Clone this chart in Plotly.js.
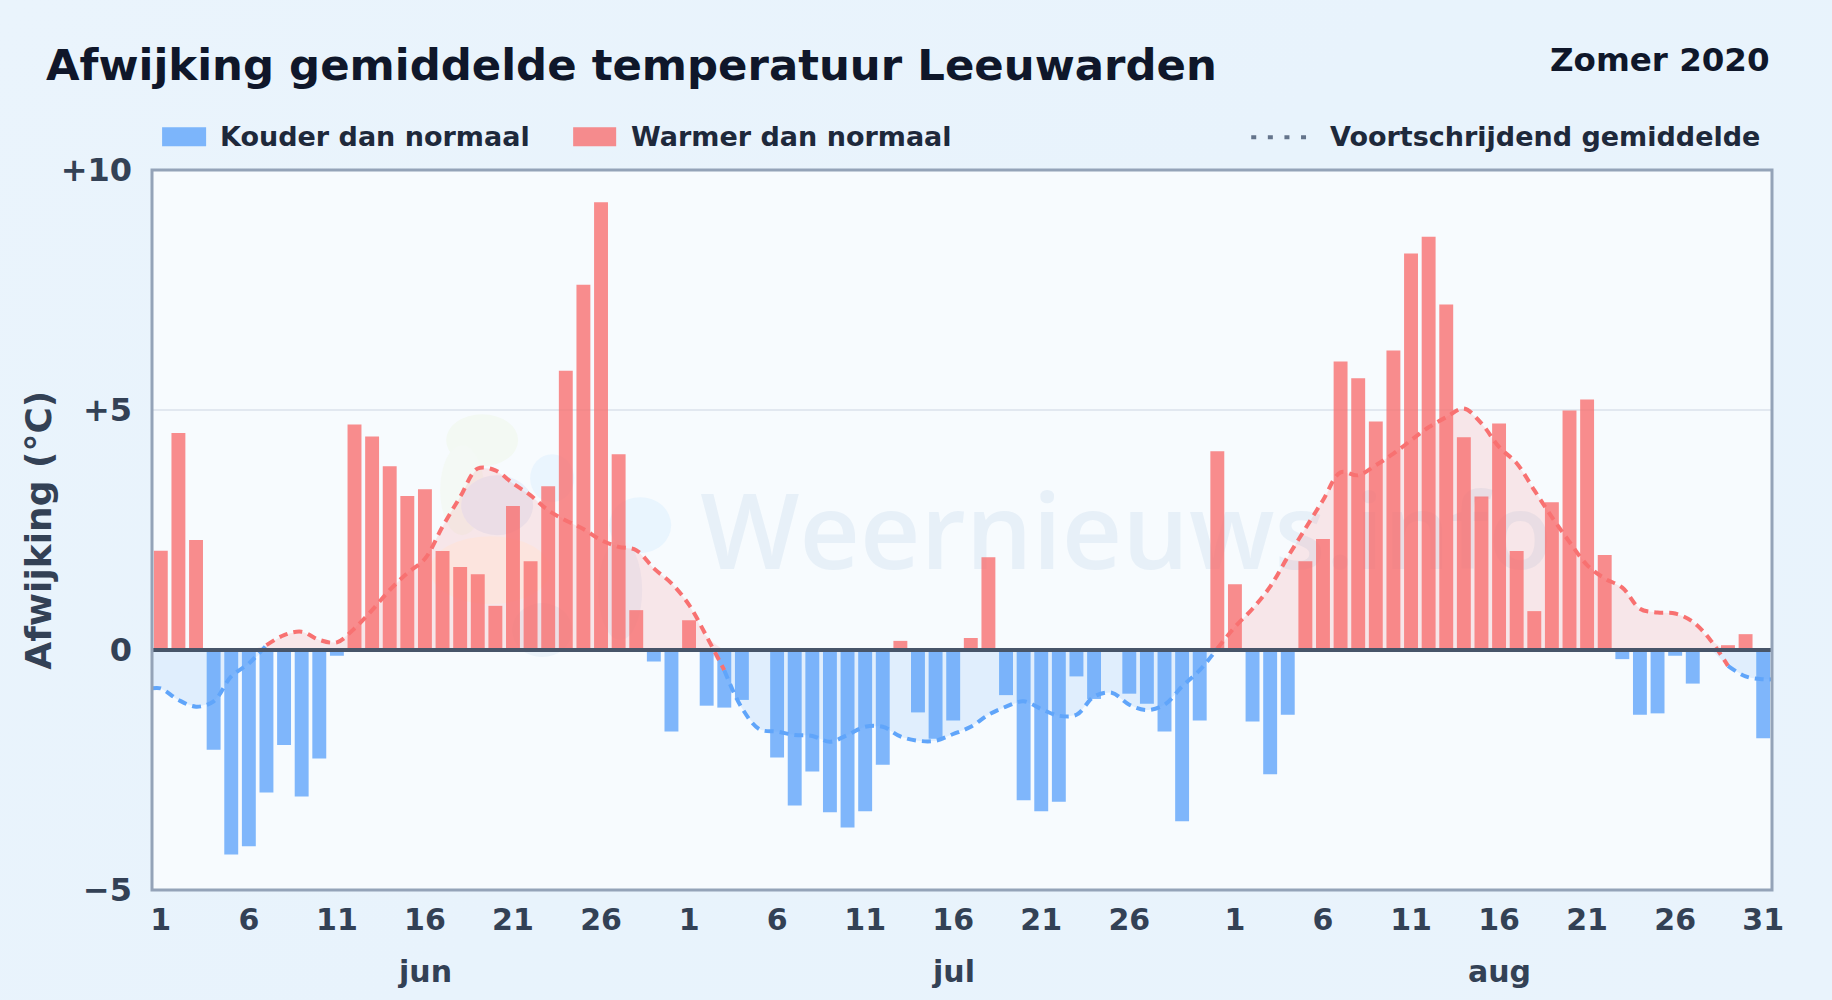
<!DOCTYPE html>
<html>
<head>
<meta charset="utf-8">
<script src="https://cdn.plot.ly/plotly-3.0.1.min.js"></script>
<style>
html,body{margin:0;padding:0;width:1832px;height:1000px;overflow:hidden;background:linear-gradient(135deg,#eaf4fc 0%,#e8f3fc 50%,#e9f3fc 100%);}
#chart{width:1832px;height:1000px;}
</style>
</head>
<body>
<div id="chart"></div>
<script>
const chartTitle = "Afwijking gemiddelde temperatuur Leeuwarden";
const subTitle = "Zomer 2020";
const yAxisTitle = "Afwijking (°C)";
const coldName = "Kouder dan normaal";
const warmName = "Warmer dan normaal";
const avgName = "Voortschrijdend gemiddelde";
const watermarkText = "Weernieuws.info";

// Daily deviation, 1 June to 31 August 2020
const juneDeviation = [2.07,4.52,2.29,-2.08,-4.26,-4.09,-2.97,-1.98,-3.05,-2.26,-0.12,4.70,4.45,3.83,3.21,3.35,2.06,1.73,1.58,0.92,3.00,1.85,3.41,5.82,7.61,9.33,4.08,0.83,-0.24,-1.70];
const julyDeviation = [0.62,-1.16,-1.20,-1.04,0,-2.24,-3.24,-2.53,-3.38,-3.70,-3.36,-2.39,0.19,-1.30,-1.85,-1.47,0.25,1.93,-0.94,-3.13,-3.36,-3.16,-0.55,-1.02,0,-0.91,-1.12,-1.70,-3.57,-1.47,4.14];
const augustDeviation = [1.37,-1.49,-2.59,-1.35,1.85,2.31,6.01,5.66,4.76,6.24,8.26,8.61,7.20,4.43,3.20,4.72,2.06,0.81,3.08,4.99,5.22,1.98,-0.19,-1.35,-1.32,-0.12,-0.70,0,0.10,0.33,-1.84];

// Moving average, day by day
const juneAverage = [-0.80,-1.04,-1.18,-1.07,-0.55,-0.28,0.10,0.31,0.38,0.21,0.16,0.45,0.83,1.25,1.60,1.90,2.57,3.19,3.78,3.74,3.47,3.22,2.91,2.70,2.52,2.29,2.15,2.08,1.70,1.39];
const julyAverage = [0.94,0.28,-0.42,-1.21,-1.65,-1.70,-1.77,-1.79,-1.91,-1.77,-1.60,-1.60,-1.80,-1.89,-1.89,-1.75,-1.60,-1.35,-1.18,-1.07,-1.23,-1.37,-1.35,-0.97,-0.89,-1.14,-1.25,-1.14,-0.76,-0.42,0.03];
const augustAverage = [0.48,0.86,1.32,1.94,2.53,3.12,3.70,3.64,3.85,4.09,4.37,4.64,4.85,5.03,4.72,4.23,3.89,3.33,2.77,2.25,1.77,1.49,1.30,0.86,0.78,0.76,0.59,0.21,-0.33,-0.55,-0.61];

const tickValues = [1,6,11,16,21,26,31,36,41,46,51,56,62,67,72,77,82,87,92];
const tickLabels = ["1","6","11","16","21","26","1","6","11","16","21","26","1","6","11","16","21","26","31"];
const yTickValues = [-5,0,5,10];
const yTickLabels = ["−5","0","+5","+10"];
const monthNames = ["jun","jul","aug"];
const monthLabelDays = [16,46,77];

const deviation = juneDeviation.concat(julyDeviation, augustDeviation);
const average = juneAverage.concat(julyAverage, augustAverage);
const days = deviation.map((_, i) => i + 1);

const COLD_BAR = "rgba(96,165,250,0.8)", WARM_BAR = "rgba(248,113,113,0.8)";
const COLD_LINE = "#60a5fa", WARM_LINE = "#f87171";
const COLD_FILL = "rgba(96,165,250,0.15)", WARM_FILL = "rgba(248,113,113,0.15)";
const FONT = "DejaVu Sans";

const PL = 151.9, PR = 1771.7, PT = 169.7, PB = 890;
const px = v => (v - PL) / (PR - PL);
const py = v => (PB - v) / (PB - PT);

const traces = [];
const barOf = (test, name, color) => {
  const idx = days.map((_, i) => i).filter(i => test(deviation[i]));
  return {type:"bar", name, x: idx.map(i => days[i]), y: idx.map(i => deviation[i]),
          width: 0.79, marker:{color, line:{width:0}}, hoverinfo:"x+y"};
};
traces.push(barOf(v => v < 0, coldName, COLD_BAR));
traces.push(barOf(v => v > 0, warmName, WARM_BAR));

// Curve runs to the plot edges
const lineX = [0.5].concat(days, [92.5]);
const lineY = [average[0]].concat(average, [average[average.length - 1]]);

// Area fills between the curve and zero
traces.push({type:"scatter", mode:"lines", name:"Onder normaal", x:lineX, y:lineY.map(v => Math.min(v,0)),
  line:{width:0, shape:"spline", smoothing:0.6}, fill:"tozeroy", fillcolor:COLD_FILL, hoverinfo:"skip", showlegend:false});
traces.push({type:"scatter", mode:"lines", name:"Boven normaal", x:lineX, y:lineY.map(v => Math.max(v,0)),
  line:{width:0, shape:"spline", smoothing:0.6}, fill:"tozeroy", fillcolor:WARM_FILL, hoverinfo:"skip", showlegend:false});

// Curve coloured by sign: each run keeps the colour of its start
let runStart = 0;
for (let i = 1; i <= lineY.length; i++) {
  if (i === lineY.length || (lineY[i] >= 0) !== (lineY[runStart] >= 0)) {
    const end = Math.min(i + 1, lineY.length);
    traces.push({type:"scatter", mode:"lines", name:avgName,
      x: lineX.slice(runStart, end), y: lineY.slice(runStart, end),
      line:{color: lineY[runStart] >= 0 ? WARM_LINE : COLD_LINE, width:4, shape:"spline", smoothing:1, dash:"9px,6px"},
      hoverinfo:"skip", showlegend:false});
    runStart = i;
  }
}

const ellipse = (cx, cy, rx, ry, color) => ({type:"circle", xref:"paper", yref:"paper", layer:"below",
  x0:px(cx-rx), x1:px(cx+rx), y0:py(cy+ry), y1:py(cy-ry), fillcolor:color, line:{width:0}});

const shapes = [
  // faint logo behind the chart
  ellipse(482,440,36,26,"#f3f9f3"),
  ellipse(462,490,22,45,"#f4f9f5"),
  ellipse(552,478,22,24,"#eaf5fe"),
  ellipse(640,525,31,28,"#e9f5fe"),
  ellipse(497,505,36,30,"#e9f0fb"),
  ellipse(490,570,60,34,"#fdf8f1"),
  ellipse(620,590,22,50,"#ecf2fb"),
  ellipse(542,630,30,27,"#ebf3fa"),
  // watermark wordmark, drawn under the marks
  {type:"rect", xref:"paper", yref:"paper", layer:"below", x0:px(697), x1:px(1560), y0:py(600), y1:py(470),
   line:{width:0}, fillcolor:"rgba(0,0,0,0)",
   label:{text:watermarkText, textposition:"middle left", padding:0, font:{family:"Open Sans", size:105, color:"#e7f0f8", weight:600}}},
  // zero line
  {type:"line", xref:"paper", yref:"y", x0:0, x1:1, y0:0, y1:0, line:{color:"#475569", width:4}},
  // frame
  {type:"rect", xref:"paper", yref:"paper", x0:0, x1:1, y0:0, y1:1, line:{color:"#94a3b8", width:3}},
  // legend keys
  {type:"rect", xref:"paper", yref:"paper", x0:px(162), x1:px(206), y0:py(146), y1:py(127), fillcolor:COLD_BAR, line:{width:0}},
  {type:"rect", xref:"paper", yref:"paper", x0:px(573), x1:px(616), y0:py(146), y1:py(127), fillcolor:WARM_BAR, line:{width:0}},
  {type:"line", xref:"paper", yref:"paper", x0:px(1251), x1:px(1308), y0:py(137), y1:py(137), line:{color:"#64748b", width:4, dash:"5px,11.6px"}}
];

const note = (text, x, y, size, color, anchor) => ({text, xref:"paper", yref:"paper", x:px(x), y:py(y),
  xanchor:anchor, yanchor:"middle", showarrow:false, borderpad:0,
  font:{family:FONT, size, color, weight:700}});

const annotations = [
  note(subTitle, 1771, 60, 32.5, "#0f172a", "right"),
  note(coldName, 218.5, 136, 27, "#1e293b", "left"),
  note(warmName, 629.5, 136, 27, "#1e293b", "left"),
  note(avgName, 1329, 136, 27, "#1e293b", "left"),
  Object.assign(note(yAxisTitle, 38.5, 530, 36, "#334155", "center"), {textangle:-90})
].concat(monthNames.map((m, i) => ({text:m, xref:"x", yref:"paper", x:monthLabelDays[i], y:py(972),
  xanchor:"center", yanchor:"middle", showarrow:false, borderpad:0,
  font:{family:FONT, size:30, color:"#334155", weight:700}})));

const layout = {
  width:1832, height:1000,
  margin:{l:PL, r:1832-PR, t:PT, b:1000-PB, pad:0},
  paper_bgcolor:"rgba(0,0,0,0)",
  plot_bgcolor:"#f7fbfe",
  showlegend:false,
  barmode:"overlay",
  title:{text:chartTitle, x:46/1832, xref:"container", xanchor:"left", y:1-65/1000, yref:"container", yanchor:"middle",
         font:{family:FONT, size:43.4, color:"#0f172a", weight:700}},
  font:{family:FONT},
  xaxis:{range:[0.5,92.5], tickmode:"array", tickvals:tickValues, ticktext:tickLabels, ticks:"", showgrid:false, zeroline:false,
         showline:false, ticklabelstandoff:9, tickangle:0,
         tickfont:{family:FONT, size:30, color:"#334155", weight:700}},
  yaxis:{range:[-5,10], tickmode:"array", tickvals:yTickValues, ticktext:yTickLabels, ticks:"", showgrid:true, gridcolor:"#e2e8f0", gridwidth:2,
         zeroline:false, showline:false, ticklabelstandoff:19,
         tickfont:{family:FONT, size:32, color:"#334155", weight:700}},
  shapes, annotations
};

Plotly.newPlot("chart", traces, layout, {displayModeBar:false, responsive:false});
</script>
</body>
</html>
